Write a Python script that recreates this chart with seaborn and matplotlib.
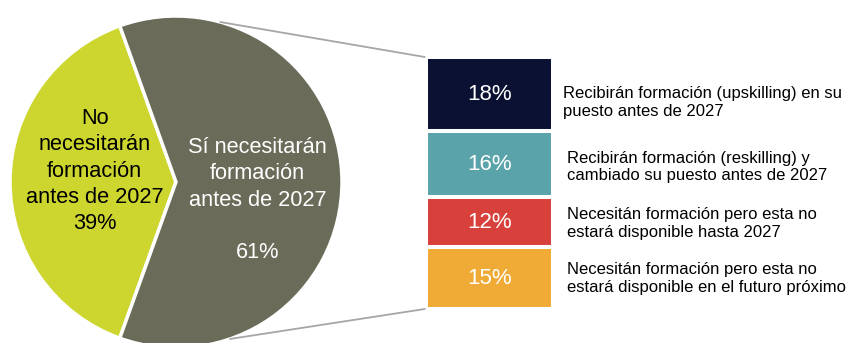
import matplotlib
matplotlib.use("Agg")
import matplotlib.pyplot as plt
from matplotlib.patches import ConnectionPatch
import numpy as np
import seaborn as sns

# pie: share of workers that will / will not need training before 2027
pie_labels = ["No\nnecesitarán\nformación\nantes de 2027\n39%",
              "Sí necesitarán\nformación\nantes de 2027\n\n61%"]
pie_values = [39, 61]
pie_colors = ["#cdd62f", "#6b6b59"]

# breakdown of the 61%
split_values = [18, 16, 12, 15]
split_colors = ["#0b1133", "#5ba3ab", "#d8413b", "#f0ab36"]
split_labels = [
    "Recibirán formación (upskilling) en su\npuesto antes de 2027",
    "Recibirán formación (reskilling) y\ncambiado su puesto antes de 2027",
    "Necesitán formación pero esta no\nestará disponible hasta 2027",
    "Necesitán formación pero esta no\nestará disponible en el futuro próximo",
]

sns.set_theme(style="white")
plt.rcParams["font.family"] = ["Liberation Sans", "DejaVu Sans"]

W, H = 853, 343
fig = plt.figure(figsize=(W / 100, H / 100), dpi=100)

# pie axes (circle centre ~ (176,182) px, radius ~166 px)
cx, cy, r = 176, 182, 166
ax_pie = fig.add_axes([(cx - r) / W, (H - cy - r) / H, 2 * r / W, 2 * r / H])
start = 180 - pie_values[0] / sum(pie_values) * 360 / 2
ax_pie.pie(pie_values, colors=pie_colors, startangle=start, counterclock=True,
           wedgeprops=dict(edgecolor="white", linewidth=2.5))
ax_pie.set_xlim(-1, 1)
ax_pie.set_ylim(-1, 1)
ax_pie.set_aspect("equal")
ax_pie.axis("off")
ax_pie.text(-0.49, 0.065, pie_labels[0], ha="center", va="center",
            fontsize=15.7, color="black", linespacing=1.33)
ax_pie.text(0.49, -0.11, pie_labels[1], ha="center", va="center",
            fontsize=15.7, color="white", linespacing=1.33)

# stacked block for the 61%
ax_bar = fig.add_axes([426 / W, (H - 309) / H, 127 / W, 252 / H])
bottoms = np.concatenate([[0], np.cumsum(split_values)[:-1]])
for val, bot, col in zip(split_values, bottoms, split_colors):
    ax_bar.bar(0, val, bottom=bot, width=1, color=col, edgecolor="white", linewidth=2.9)
    ax_bar.text(0, bot + val / 2, f"{val}%", ha="center", va="center",
                fontsize=16, color="white")
ax_bar.set_xlim(-0.5, 0.5)
ax_bar.set_ylim(sum(split_values), 0)
ax_bar.axis("off")

# descriptions to the right
label_pos = [(563, 102.5), (567, 167), (567, 223.5), (567, 278.5)]
for (x, y), txt in zip(label_pos, split_labels):
    fig.text(x / W, 1 - y / H, txt, ha="left", va="center", fontsize=12,
             color="black", linespacing=1.22)

# connector lines from pie to block
for ang, yb in [(74.5, 1.0), (-71, 0.0)]:
    a = np.deg2rad(ang)
    con = ConnectionPatch(xyA=(np.cos(a), np.sin(a)), coordsA=ax_pie.transData,
                          xyB=(-0.01, yb), coordsB=ax_bar.transAxes,
                          color="#a6a6a6", linewidth=1.3)
    fig.add_artist(con)

fig.savefig("out.png", dpi=100)
